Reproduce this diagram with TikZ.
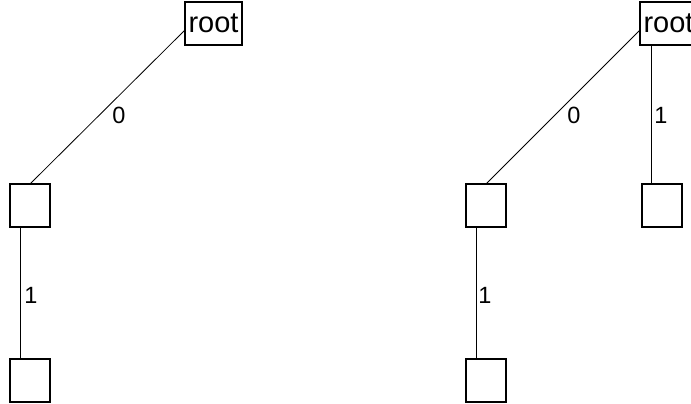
\documentclass[tikz,border=0pt]{standalone}
\usepackage{fontspec}
\setmainfont{Liberation Sans}
\begin{document}
\begin{tikzpicture}[x=1pt,y=-1pt,
  box/.style={draw,line width=1.1pt,minimum width=40pt,minimum height=43pt,inner sep=0pt,outer sep=0pt},
  rootbox/.style={draw,line width=1.1pt,minimum width=57pt,minimum height=43pt,inner sep=0pt,outer sep=0pt,font=\fontsize{29}{32}\selectfont},
  edge/.style={line width=0.8pt},
  lbl/.style={font=\fontsize{23.5}{26}\selectfont,inner sep=0pt}]
\useasboundingbox (0,0) rectangle (691,404);
\clip (0,0) rectangle (691,404);
% left tree
\node[rootbox] (lroot) at (213.5,23.5) {root};
\node[box] (lc) at (30,205.5) {};
\node[box] (lg) at (30,380.5) {};
\draw[edge] ([yshift=-6.5pt]lroot.west) -- (lc.north);
\draw[edge] ([xshift=-10pt]lc.south) -- ([xshift=-10pt]lg.north);
\node[lbl] (l0) at (119,115) {0};
\node[lbl] (l1) at (31,295) {1};
% right tree
\node[rootbox] (rroot) at (668.5,23.5) {root};
\node[box] (rc) at (486,205.5) {};
\node[box] (rg) at (486,380.5) {};
\node[box] (rc2) at (662,205.5) {};
\draw[edge] ([yshift=-6.5pt]rroot.west) -- (rc.north);
\draw[edge] ([xshift=-10pt]rc.south) -- ([xshift=-10pt]rg.north);
\draw[edge] ([xshift=11pt]rroot.south west) -- ([xshift=-11pt]rc2.north);
\node[lbl] (r0) at (574,115) {0};
\node[lbl] (r1) at (485,295) {1};
\node[lbl] (r2) at (661,115) {1};
\end{tikzpicture}
\end{document}
